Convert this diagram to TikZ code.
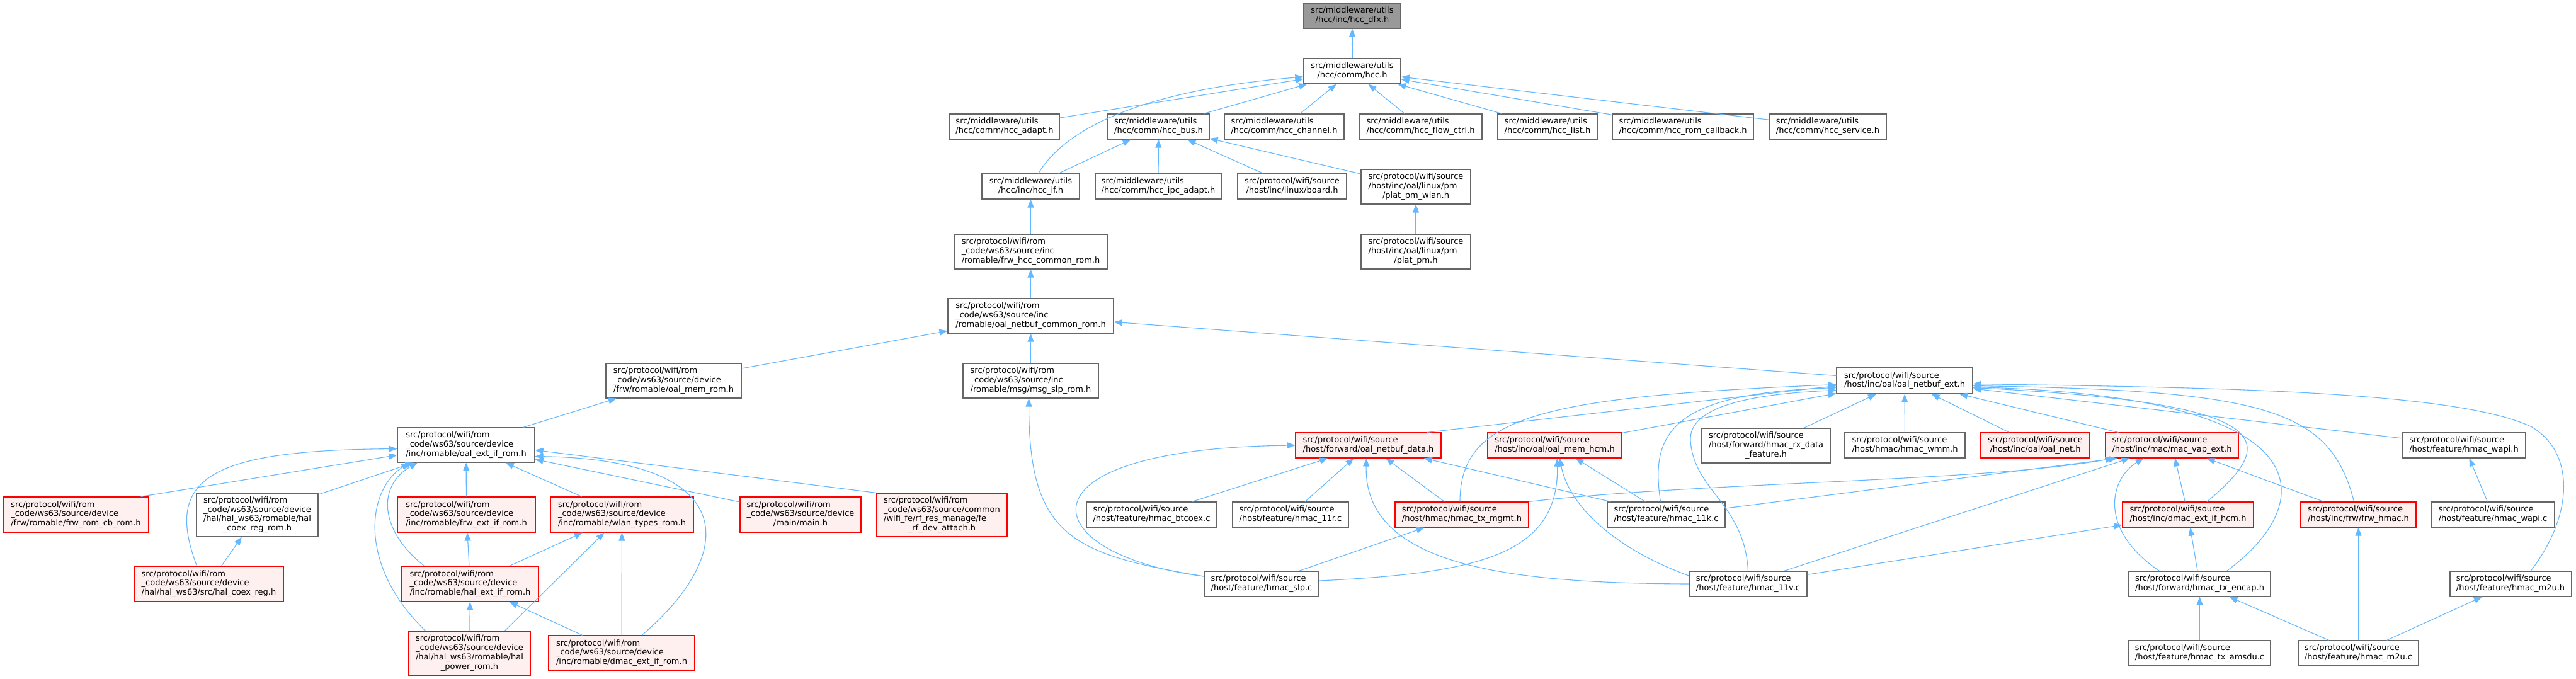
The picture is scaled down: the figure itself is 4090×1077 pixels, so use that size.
\documentclass[tikz,border=0pt]{standalone}
\usepackage{fontspec}
\setmainfont{DejaVu Sans}
\usetikzlibrary{arrows.meta}
\definecolor{edgec}{HTML}{63B8FF}
\definecolor{nbord}{HTML}{666666}
\definecolor{rbord}{HTML}{FF0000}
\definecolor{rfill}{HTML}{FFF0F0}
\definecolor{rootfill}{HTML}{999999}
\newcommand{\Ltwo}[2]{\begin{tabular}{@{}l@{}}#1\\\multicolumn{1}{@{}c@{}}{#2}\end{tabular}}
\newcommand{\Lthree}[3]{\begin{tabular}{@{}l@{}}#1\\#2\\\multicolumn{1}{@{}c@{}}{#3}\end{tabular}}
\newcommand{\Lfour}[4]{\begin{tabular}{@{}l@{}}#1\\#2\\#3\\\multicolumn{1}{@{}c@{}}{#4}\end{tabular}}
\newcommand{\bx}[7]{\node[#2, minimum width={#5-#3}, minimum height={#6-#4}] (#1) at ({(#3+#5)/2},{(#4+#6)/2}) {#7};}
\tikzset{
  basebox/.style={line width=1.1pt, inner sep=0pt, font=\fontsize{13}{14.7}\selectfont},
  nb/.style={basebox, draw=nbord, fill=white},
  rb/.style={basebox, draw=rbord, fill=rfill},
  rootb/.style={basebox, draw=nbord, fill=rootfill},
  ed/.style={draw=edgec, line width=1.1pt, {Triangle[length=13pt,width=10pt]}-},
}
\begin{document}
\begin{tikzpicture}[x=1pt,y=-1pt]
\useasboundingbox (0,0) rectangle (4090,1077);
\fill[white] (0,0) rectangle (4090,1077);
% ---- nodes ----
\bx{dfx}{rootb}{2070}{5}{2224}{45}{\Ltwo{src/middleware/utils}{/hcc/inc/hcc\_dfx.h}}
\bx{hcc}{nb}{2070}{93}{2224}{133}{\Ltwo{src/middleware/utils}{/hcc/comm/hcc.h}}
\bx{adapt}{nb}{1508}{181}{1682}{221}{\Ltwo{src/middleware/utils}{/hcc/comm/hcc\_adapt.h}}
\bx{bus}{nb}{1759}{181}{1920}{221}{\Ltwo{src/middleware/utils}{/hcc/comm/hcc\_bus.h}}
\bx{chan}{nb}{1944}{181}{2134}{221}{\Ltwo{src/middleware/utils}{/hcc/comm/hcc\_channel.h}}
\bx{flow}{nb}{2158}{181}{2353}{221}{\Ltwo{src/middleware/utils}{/hcc/comm/hcc\_flow\_ctrl.h}}
\bx{list}{nb}{2378}{181}{2536}{221}{\Ltwo{src/middleware/utils}{/hcc/comm/hcc\_list.h}}
\bx{romcb}{nb}{2560}{181}{2784}{221}{\Ltwo{src/middleware/utils}{/hcc/comm/hcc\_rom\_callback.h}}
\bx{serv}{nb}{2809}{181}{2995}{221}{\Ltwo{src/middleware/utils}{/hcc/comm/hcc\_service.h}}
\bx{hccif}{nb}{1559}{276}{1714}{316}{\Ltwo{src/middleware/utils}{/hcc/inc/hcc\_if.h}}
\bx{ipc}{nb}{1739}{276}{1939}{316}{\Ltwo{src/middleware/utils}{/hcc/comm/hcc\_ipc\_adapt.h}}
\bx{board}{nb}{1965}{276}{2138}{316}{\Ltwo{src/protocol/wifi/source}{/host/inc/linux/board.h}}
\bx{pmwlan}{nb}{2161}{269}{2335}{324}{\Lthree{src/protocol/wifi/source}{/host/inc/oal/linux/pm}{/plat\_pm\_wlan.h}}
\bx{frwhcc}{nb}{1515}{372}{1758}{427}{\Lthree{src/protocol/wifi/rom}{\_code/ws63/source/inc}{/romable/frw\_hcc\_common\_rom.h}}
\bx{platpm}{nb}{2161}{372}{2335}{427}{\Lthree{src/protocol/wifi/source}{/host/inc/oal/linux/pm}{/plat\_pm.h}}
\bx{nbcr}{nb}{1505}{474}{1768}{529}{\Lthree{src/protocol/wifi/rom}{\_code/ws63/source/inc}{/romable/oal\_netbuf\_common\_rom.h}}
\bx{memrom}{nb}{962}{577}{1177}{632}{\Lthree{src/protocol/wifi/rom}{\_code/ws63/source/device}{/frw/romable/oal\_mem\_rom.h}}
\bx{msgslp}{nb}{1529}{577}{1744}{632}{\Lthree{src/protocol/wifi/rom}{\_code/ws63/source/inc}{/romable/msg/msg\_slp\_rom.h}}
\bx{nbext}{nb}{2916}{584}{3132}{625}{\Ltwo{src/protocol/wifi/source}{/host/inc/oal/oal\_netbuf\_ext.h}}
\bx{oalext}{nb}{631}{679}{849}{734}{\Lthree{src/protocol/wifi/rom}{\_code/ws63/source/device}{/inc/romable/oal\_ext\_if\_rom.h}}
\bx{nbdata}{rb}{2057}{687}{2288}{727}{\Ltwo{src/protocol/wifi/source}{/host/forward/oal\_netbuf\_data.h}}
\bx{memhcm}{rb}{2362}{687}{2575}{727}{\Ltwo{src/protocol/wifi/source}{/host/inc/oal/oal\_mem\_hcm.h}}
\bx{rxdata}{nb}{2702}{680}{2906}{735}{\Lthree{src/protocol/wifi/source}{/host/forward/hmac\_rx\_data}{\_feature.h}}
\bx{wmm}{nb}{2929}{687}{3120}{727}{\Ltwo{src/protocol/wifi/source}{/host/hmac/hmac\_wmm.h}}
\bx{oalnet}{rb}{3145}{687}{3318}{727}{\Ltwo{src/protocol/wifi/source}{/host/inc/oal/oal\_net.h}}
\bx{macvap}{rb}{3343}{687}{3554}{727}{\Ltwo{src/protocol/wifi/source}{/host/inc/mac/mac\_vap\_ext.h}}
\bx{wapih}{nb}{3815}{687}{4009}{727}{\Ltwo{src/protocol/wifi/source}{/host/feature/hmac\_wapi.h}}
\bx{frwcb}{rb}{5}{789}{236}{845}{\Lthree{src/protocol/wifi/rom}{\_code/ws63/source/device}{/frw/romable/frw\_rom\_cb\_rom.h}}
\bx{coexrom}{nb}{312}{783}{505}{852}{\Lfour{src/protocol/wifi/rom}{\_code/ws63/source/device}{/hal/hal\_ws63/romable/hal}{\_coex\_reg\_rom.h}}
\bx{frwext}{rb}{631}{789}{850}{845}{\Lthree{src/protocol/wifi/rom}{\_code/ws63/source/device}{/inc/romable/frw\_ext\_if\_rom.h}}
\bx{wlantypes}{rb}{874}{789}{1101}{845}{\Lthree{src/protocol/wifi/rom}{\_code/ws63/source/device}{/inc/romable/wlan\_types\_rom.h}}
\bx{mainh}{rb}{1175}{789}{1367}{845}{\Lthree{src/protocol/wifi/rom}{\_code/ws63/source/device}{/main/main.h}}
\bx{rfdev}{rb}{1392}{783}{1599}{852}{\Lfour{src/protocol/wifi/rom}{\_code/ws63/source/common}{/wifi\_fe/rf\_res\_manage/fe}{\_rf\_dev\_attach.h}}
\bx{btcoex}{nb}{1725}{797}{1932}{837}{\Ltwo{src/protocol/wifi/source}{/host/feature/hmac\_btcoex.c}}
\bx{h11r}{nb}{1957}{797}{2141}{837}{\Ltwo{src/protocol/wifi/source}{/host/feature/hmac\_11r.c}}
\bx{txmgmt}{rb}{2215}{797}{2427}{837}{\Ltwo{src/protocol/wifi/source}{/host/hmac/hmac\_tx\_mgmt.h}}
\bx{h11k}{nb}{2552}{797}{2739}{837}{\Ltwo{src/protocol/wifi/source}{/host/feature/hmac\_11k.c}}
\bx{dmachcm}{rb}{3370}{797}{3578}{837}{\Ltwo{src/protocol/wifi/source}{/host/inc/dmac\_ext\_if\_hcm.h}}
\bx{frwhmac}{rb}{3653}{797}{3836}{837}{\Ltwo{src/protocol/wifi/source}{/host/inc/frw/frw\_hmac.h}}
\bx{wapic}{nb}{3861}{797}{4055}{837}{\Ltwo{src/protocol/wifi/source}{/host/feature/hmac\_wapi.c}}
\bx{coexreg}{rb}{213}{899}{450}{955}{\Lthree{src/protocol/wifi/rom}{\_code/ws63/source/device}{/hal/hal\_ws63/src/hal\_coex\_reg.h}}
\bx{halext}{rb}{638}{899}{855}{955}{\Lthree{src/protocol/wifi/rom}{\_code/ws63/source/device}{/inc/romable/hal\_ext\_if\_rom.h}}
\bx{slp}{nb}{1912}{907}{2094}{947}{\Ltwo{src/protocol/wifi/source}{/host/feature/hmac\_slp.c}}
\bx{h11v}{nb}{2682}{907}{2869}{947}{\Ltwo{src/protocol/wifi/source}{/host/feature/hmac\_11v.c}}
\bx{txencap}{nb}{3380}{907}{3605}{947}{\Ltwo{src/protocol/wifi/source}{/host/forward/hmac\_tx\_encap.h}}
\bx{m2uh}{nb}{3890}{907}{4082}{947}{\Ltwo{src/protocol/wifi/source}{/host/feature/hmac\_m2u.h}}
\bx{halpower}{rb}{649}{1002}{842}{1072}{\Lfour{src/protocol/wifi/rom}{\_code/ws63/source/device}{/hal/hal\_ws63/romable/hal}{\_power\_rom.h}}
\bx{dmacrom}{rb}{871}{1009}{1103}{1065}{\Lthree{src/protocol/wifi/rom}{\_code/ws63/source/device}{/inc/romable/dmac\_ext\_if\_rom.h}}
\bx{amsdu}{nb}{3380}{1017}{3605}{1057}{\Ltwo{src/protocol/wifi/source}{/host/feature/hmac\_tx\_amsdu.c}}
\bx{m2uc}{nb}{3649}{1017}{3840}{1057}{\Ltwo{src/protocol/wifi/source}{/host/feature/hmac\_m2u.c}}
% ---- edges (arrow at the included file) ----
\draw[ed] (dfx) -- (hcc);
\draw[ed] (hcc) -- (adapt);
\draw[ed] (hcc) -- (bus);
\draw[ed] (hcc) -- (chan);
\draw[ed] (hcc) -- (flow);
\draw[ed] (hcc) -- (list);
\draw[ed] (hcc) -- (romcb);
\draw[ed] (hcc) -- (serv);
\draw[ed] ([yshift=-9pt]hcc.west) .. controls (1850,140) and (1700,190) .. ([xshift=12pt]hccif.north);
\draw[ed] (bus) -- (hccif);
\draw[ed] (bus) -- (ipc);
\draw[ed] (bus) -- (board);
\draw[ed] (bus) -- (pmwlan);
\draw[ed] (hccif) -- (frwhcc);
\draw[ed] (frwhcc) -- (nbcr);
\draw[ed] (pmwlan) -- (platpm);
\draw[ed] (nbcr) -- (memrom);
\draw[ed] (nbcr) -- (msgslp);
\draw[ed] (nbcr) -- (nbext);
\draw[ed] (memrom) -- (oalext);
\draw[ed] ([xshift=-3pt]msgslp.south) .. controls (1634,850) and (1700,880) .. ([yshift=12pt]slp.west);
\draw[ed] (nbdata.west) .. controls (1600,712) and (1640,880) .. ([yshift=12pt]slp.west);
\draw[ed] (nbdata) -- (btcoex);
\draw[ed] (nbdata) -- (h11r);
\draw[ed] (nbdata) -- (txmgmt);
\draw[ed] (nbdata) -- (h11k);
\draw[ed] ([xshift=-3pt]nbdata.south) .. controls (2165,900) and (2400,926) .. (h11v.west);
\draw[ed] ([yshift=-8pt]nbext.west) -- ([xshift=93pt]nbdata.north);
\draw[ed] (nbext) -- (memhcm);
\draw[ed] ([yshift=-6pt]nbext.west) .. controls (2450,630) and (2318,660) .. ([xshift=-3pt]txmgmt.north);
\draw[ed] ([yshift=-11pt]nbext.west) .. controls (2650,625) and (2620,690) .. ([xshift=-9pt]h11k.north);
\draw[ed] ([yshift=-15pt]nbext.west) .. controls (2800,625) and (2680,640) .. (2684,700) .. controls (2690,780) and (2770,800) .. (h11v.north);
\draw[ed] (nbext) -- (rxdata);
\draw[ed] (nbext) -- (wmm);
\draw[ed] (nbext) -- (oalnet);
\draw[ed] (nbext) -- (macvap);
\draw[ed] (nbext) -- (wapih);
\draw[ed] ([yshift=-8pt]nbext.east) .. controls (3600,620) and (3700,650) .. ([xshift=-7pt]frwhmac.north);
\draw[ed] ([yshift=-11pt]nbext.east) .. controls (3620,640) and (3620,700) .. ([xshift=30pt]dmachcm.north);
\draw[ed] ([yshift=-10pt]nbext.east) .. controls (3700,630) and (3680,800) .. ([xshift=43pt]txencap.north);
\draw[ed] ([yshift=-5pt]nbext.east) .. controls (3500,615) and (3900,620) .. (4020,678) .. controls (4090,720) and (4085,820) .. ([xshift=32pt]m2uh.north);
\draw[ed] ([xshift=-93pt]macvap.south) .. controls (3150,765) and (2700,765) .. (txmgmt.north east);
\draw[ed] ([xshift=-87pt]macvap.south) -- ([yshift=10pt]h11k.east);
\draw[ed] ([xshift=-67pt]macvap.south) -- ([xshift=57pt]h11v.north);
\draw[ed] ([xshift=-45pt]macvap.south) .. controls (3350,760) and (3330,840) .. ([xshift=-64pt]txencap.north);
\draw[ed] (macvap) -- (dmachcm);
\draw[ed] (macvap) -- (frwhmac);
\draw[ed] (dmachcm) -- (h11v);
\draw[ed] (dmachcm) -- (txencap);
\draw[ed] (txencap) -- (amsdu);
\draw[ed] (txencap) -- (m2uc);
\draw[ed] (m2uh) -- (m2uc);
\draw[ed] (frwhmac) -- (m2uc);
\draw[ed] (wapih) -- (wapic);
\draw[ed] ([xshift=4pt]memhcm.south) .. controls (2475,880) and (2350,910) .. ([yshift=5pt]slp.east);
\draw[ed] ([xshift=8pt]memhcm.south) .. controls (2490,800) and (2560,870) .. ([yshift=13pt]h11v.west);
\draw[ed] (memhcm) -- (h11k);
\draw[ed] (txmgmt) -- (slp);
% ROM side
\draw[ed] ([yshift=-16pt]oalext.west) -- ([xshift=-13pt]frwcb.north east);
\draw[ed] ([yshift=-6pt]oalext.west) .. controls (330,715) and (260,760) .. ([xshift=-19pt]coexreg.north);
\draw[ed] (oalext) -- (coexrom);
\draw[ed] ([xshift=-90pt]oalext.south) .. controls (580,780) and (570,900) .. ([xshift=-70pt]halpower.north);
\draw[ed] ([xshift=-77pt]oalext.south) .. controls (600,770) and (600,840) .. ([xshift=-73pt]halext.north);
\draw[ed] (oalext) -- (frwext);
\draw[ed] (oalext) -- (wlantypes);
\draw[ed] (oalext) -- (mainh);
\draw[ed] ([yshift=-8pt]oalext.east) -- (rfdev.north west);
\draw[ed] ([yshift=-18pt]oalext.east) .. controls (1180,730) and (1170,880) .. ([xshift=32pt]dmacrom.north);
\draw[ed] (coexrom) -- (coexreg);
\draw[ed] (frwext) -- (halext);
\draw[ed] (halext) -- (halpower);
\draw[ed] (halext) -- (dmacrom);
\draw[ed] (wlantypes) -- (halext);
\draw[ed] ([xshift=-28pt]wlantypes.south) -- ([xshift=56pt]halpower.north);
\draw[ed] (wlantypes) -- (dmacrom);
\end{tikzpicture}
\end{document}
